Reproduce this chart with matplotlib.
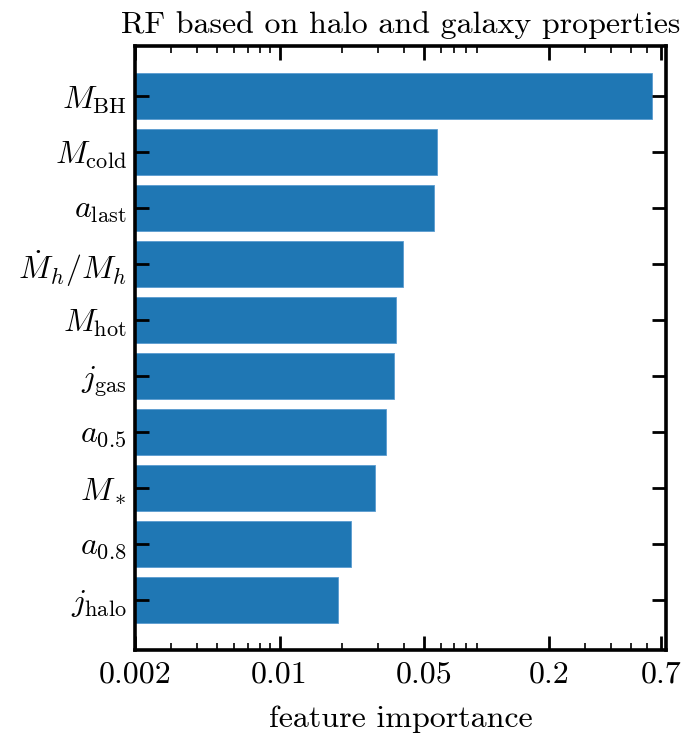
import numpy as np
import matplotlib
matplotlib.use("Agg")
import matplotlib.pyplot as plt
from matplotlib.ticker import FixedLocator, FixedFormatter, LogLocator, NullFormatter

# data (top to bottom)
labels = [r"$M_{\rm BH}$", r"$M_{\rm cold}$", r"$a_{\rm last}$", r"$\dot{M}_h/M_h$",
          r"$M_{\rm hot}$", r"$j_{\rm gas}$", r"$a_{0.5}$", r"$M_*$",
          r"$a_{0.8}$", r"$j_{\rm halo}$"]
importance = [0.632, 0.0575, 0.0556, 0.0395, 0.0366, 0.0358, 0.0328, 0.0290, 0.0221, 0.0191]
xticks = [0.002, 0.01, 0.05, 0.2, 0.7]
xticklabels = ["0.002", "0.01", "0.05", "0.2", "0.7"]

plt.rcParams['font.family'] = 'serif'
plt.rcParams['font.serif'] = ['cmr10']
plt.rcParams['mathtext.fontset'] = 'cm'
plt.rcParams['axes.formatter.use_mathtext'] = True

fig = plt.figure(figsize=(6.89, 7.37), dpi=100)
ax = fig.add_axes([0.196, 0.118, 0.771, 0.820])

y = np.arange(len(labels))
ax.barh(y, importance, height=0.82, color='#1f77b4', edgecolor='#5a9bd0', linewidth=0.6)
ax.set_yticks(y)
ax.set_yticklabels(labels)
ax.invert_yaxis()

ax.set_xscale('log')
ax.set_xlim(0.002, 0.74)
ax.xaxis.set_major_locator(FixedLocator(xticks))
ax.xaxis.set_major_formatter(FixedFormatter(xticklabels))
ax.xaxis.set_minor_locator(LogLocator(base=10, subs=np.arange(2, 10)))
ax.xaxis.set_minor_formatter(NullFormatter())

ax.set_xlabel("feature importance", fontsize=23, labelpad=12)
ax.set_title("RF based on halo and galaxy properties", fontsize=23, pad=9)

ax.tick_params(axis='both', which='both', direction='in', top=True, right=True, labelsize=23)
ax.tick_params(which='major', length=10, width=2)
ax.tick_params(which='minor', length=5, width=1.2)
ax.tick_params(axis='x', which='major', pad=8)
ax.tick_params(axis='y', which='major', pad=6)
for s in ax.spines.values():
    s.set_linewidth(2.6)

fig.savefig("out.png", dpi=100)
